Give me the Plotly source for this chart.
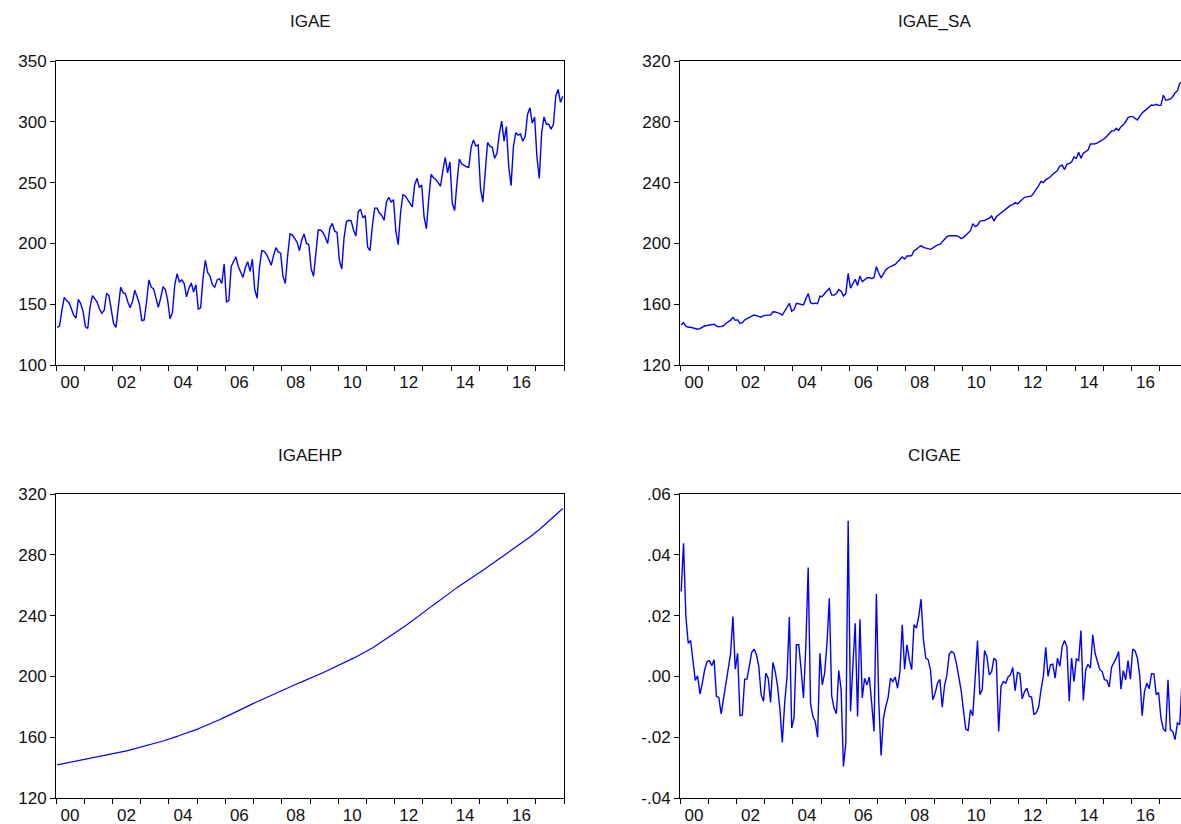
import plotly.graph_objects as go

# ---------------- data (monthly, Jan 2000 - Dec 2017) ----------------
start_year = 2000
n_years = 18

igae = [
    131, 132, 145, 155.6, 153, 151.5, 146.5, 141, 138.5, 154, 150.5, 144,
    131.5, 130, 148, 157, 154.5, 151.5, 146, 142.5, 145, 159, 157, 147,
    134, 131, 150, 164, 159.5, 158.5, 152, 147, 152, 161.5, 156, 150,
    136.5, 137, 152, 170, 164, 162.5, 155, 147.5, 155, 164.5, 162, 153,
    138, 143, 166, 175, 168, 170, 167, 156, 163, 167.5, 160, 166,
    146, 147, 171, 186, 176, 173, 166, 164, 170, 171, 167, 183,
    152, 153, 181, 185, 189, 181, 177, 172, 180, 185, 177, 187,
    162, 155, 180, 194, 193.5, 191, 187, 182, 190, 196.5, 193, 192,
    173, 167, 190, 207.7, 207, 204, 201, 194, 203, 207.7, 200, 199,
    179, 173, 195, 211, 211, 209, 205, 200, 213, 216.5, 210, 209,
    186, 179, 205, 218, 219, 218.5, 211, 206, 226, 228, 221, 223,
    197, 194, 214, 229, 229, 225, 223, 219, 234, 238, 234, 236,
    210, 199, 225, 240, 239, 236, 233, 230, 248, 253.5, 246, 248,
    222, 212, 237, 256.8, 254, 252.5, 250, 247, 260, 270.8, 258, 267,
    233, 227, 250, 269.4, 265.5, 264, 263, 262.5, 279, 285, 280, 281,
    245, 234, 262, 283, 280, 279, 270, 274, 290, 300.6, 284, 296,
    263, 247.5, 280, 291, 289, 290, 284, 288, 306, 311.6, 299, 304,
    271, 253.5, 291, 304, 298, 298, 294, 298, 321, 326.7, 316, 321,
]

igae_sa = [
    146.3, 147.9, 145.5, 144.8, 144.8, 144.3, 143.7, 143.5, 143.9, 145.0, 145.8, 146.0,
    146.3, 146.5, 146.8, 145.6, 145.2, 145.4, 145.8, 147.3, 148.5, 149.5, 151.4, 149.4,
    149.8, 147.4, 147.8, 149.6, 150.5, 151.2, 152.2, 152.9, 152.5, 151.9, 151.4, 152.5,
    152.9, 152.8, 152.8, 155.0, 154.9, 154.5, 153.8, 152.8, 155.2, 157.3, 160.6, 155.5,
    156.5, 160.6, 160.2, 159.6, 159.5, 163.5, 167.1, 161.0, 160.3, 160.7, 160.3, 165.2,
    165.1, 167.0, 168.5, 170.4, 166.0, 166.0, 167.0, 169.6, 168.5, 165.4, 167.0, 180.3,
    170.6, 173.7, 176.4, 172.3, 178.6, 174.8, 176.2, 177.3, 177.6, 176.8, 177.5, 184.7,
    180.5, 177.3, 180.0, 182.5, 184.0, 184.9, 185.4, 186.2, 187.8, 189.5, 191.0, 189.7,
    191.7, 191.7, 192.0, 195.2, 196.0, 197.5, 198.5, 197.4, 196.8, 196.5, 196.1, 197.0,
    197.9, 199.0, 199.3, 200.8, 202.7, 204.4, 205.0, 205.1, 205.1, 205.1, 204.5, 203.3,
    203.8, 205.5, 206.8, 208.4, 213.0, 211.0, 212.0, 214.5, 215.0, 215.0, 216.0, 216.5,
    218.0, 214.7, 217.5, 218.7, 220.2, 221.2, 222.4, 223.5, 225.0, 225.5, 226.8, 226.0,
    227.5, 229.0, 230.3, 230.6, 231.0, 231.3, 233.4, 235.5, 238.0, 240.8, 240.0, 241.8,
    242.8, 243.8, 245.5, 246.5, 248.0, 250.9, 251.5, 248.5, 252.0, 252.6, 253.5, 256.8,
    256.0, 260.0, 256.0, 259.3, 260.5, 261.4, 265.4, 265.4, 265.6, 266.2, 267.0, 268.0,
    269.0, 270.5, 272.5, 274.0, 274.0, 275.7, 274.3, 276.8, 278.0, 280.0, 282.8, 283.4,
    283.4, 282.5, 281.2, 283.5, 285.8, 287.2, 288.5, 290.2, 291.0, 290.8, 291.5, 290.8,
    290.8, 297.5, 294.3, 294.5, 295.0, 296.5, 299.0, 300.5, 305.3, 306.0, 307.0, 308.0,
]

igaehp = [
    141.8, 142.1, 142.4, 142.7, 143.0, 143.3, 143.5, 143.8, 144.1, 144.4, 144.7, 145.0,
    145.3, 145.6, 145.9, 146.2, 146.5, 146.8, 147.2, 147.5, 147.8, 148.1, 148.4, 148.7,
    149.0, 149.4, 149.7, 150.1, 150.5, 150.8, 151.2, 151.6, 151.9, 152.3, 152.7, 153.0,
    153.4, 153.8, 154.3, 154.7, 155.2, 155.7, 156.1, 156.6, 157.1, 157.5, 158.0, 158.4,
    158.9, 159.4, 160.0, 160.5, 161.1, 161.6, 162.2, 162.7, 163.3, 163.8, 164.4, 164.9,
    165.5, 166.2, 166.8, 167.5, 168.2, 168.9, 169.5, 170.2, 170.9, 171.5, 172.2, 172.9,
    173.6, 174.4, 175.1, 175.9, 176.6, 177.4, 178.1, 178.9, 179.6, 180.4, 181.1, 181.9,
    182.6, 183.4, 184.1, 184.8, 185.6, 186.3, 187.0, 187.7, 188.5, 189.2, 189.9, 190.7,
    191.4, 192.0, 192.7, 193.3, 193.9, 194.5, 195.2, 195.8, 196.4, 197.0, 197.6, 198.3,
    198.9, 199.6, 200.3, 201.0, 201.7, 202.4, 203.1, 203.8, 204.5, 205.2, 205.9, 206.6,
    207.3, 208.1, 208.9, 209.6, 210.4, 211.2, 212.0, 212.8, 213.6, 214.3, 215.1, 215.9,
    216.7, 217.7, 218.7, 219.7, 220.7, 221.7, 222.7, 223.6, 224.6, 225.6, 226.6, 227.6,
    228.6, 229.8, 230.9, 232.1, 233.2, 234.4, 235.5, 236.7, 237.8, 239.0, 240.1, 241.3,
    242.4, 243.6, 244.7, 245.9, 247.0, 248.2, 249.3, 250.5, 251.7, 252.8, 254.0, 255.1,
    256.3, 257.3, 258.4, 259.4, 260.5, 261.5, 262.5, 263.6, 264.6, 265.7, 266.7, 267.8,
    268.8, 269.8, 270.9, 271.9, 273.0, 274.0, 275.0, 276.1, 277.1, 278.2, 279.2, 280.3,
    281.3, 282.5, 283.6, 284.8, 285.9, 287.1, 288.3, 289.4, 290.6, 291.7, 292.9, 294.0,
    295.2, 296.6, 298.0, 299.4, 300.8, 302.2, 303.5, 304.9, 306.3, 307.7, 309.1, 310.5,
]

cigae = [
    0.0279, 0.0438, 0.0197, 0.0109, 0.0118, 0.0055, -0.0013, 0.0002, -0.0058, -0.0022, 0.0022, 0.0049,
    0.0052, 0.0035, 0.0055, -0.0066, -0.0069, -0.0123, -0.0077, -0.0022, 0.0022, 0.0074, 0.0197, 0.0024,
    0.0076, -0.0129, -0.0127, -0.0009, -0.0009, 0.0033, 0.0079, 0.0090, 0.0071, 0.0033, -0.0060, -0.0082,
    0.0011, -0.0006, -0.0086, 0.0046, 0.0016, -0.0033, -0.0110, -0.0217, -0.0088, -0.0002, 0.0195, -0.0170,
    -0.0135, 0.0104, 0.0104, 0.0022, -0.0071, 0.0098, 0.0358, -0.0088, -0.0132, -0.0148, -0.0200, 0.0076,
    -0.0028, 0.0011, 0.0109, 0.0257, -0.0064, -0.0104, -0.0123, 0.0019, -0.0042, -0.0296, -0.0219, 0.0512,
    -0.0115, 0.0033, 0.0175, -0.0132, 0.0188, -0.0071, -0.0006, -0.0028, -0.0002, -0.0088, -0.0181, 0.0271,
    -0.0077, -0.0260, -0.0137, -0.0099, -0.0069, -0.0006, -0.0017, -0.0002, -0.0039, 0.0013, 0.0170, 0.0024,
    0.0104, 0.0055, 0.0022, 0.0170, 0.0159, 0.0197, 0.0254, 0.0120, 0.0060, 0.0055, 0.0022, -0.0077,
    -0.0055, -0.0022, -0.0010, -0.0101, -0.0030, 0.0005, 0.0074, 0.0082, 0.0076, 0.0044, 0.0005, -0.0044,
    -0.0110, -0.0173, -0.0178, -0.0110, -0.0129, -0.0022, 0.0118, -0.0060, -0.0044, 0.0085, 0.0065, 0.0005,
    0.0016, 0.0060, 0.0052, -0.0181, -0.0033, -0.0017, -0.0022, -0.0002, 0.0005, 0.0029, -0.0047, 0.0013,
    0.0009, -0.0074, -0.0050, -0.0039, -0.0066, -0.0068, -0.0126, -0.0120, -0.0101, -0.0044, 0.0000, 0.0096,
    0.0000, 0.0038, 0.0040, -0.0006, 0.0060, 0.0033, 0.0098, 0.0118, 0.0098, -0.0082, 0.0060, -0.0017,
    0.0057, 0.0052, 0.0151, -0.0079, 0.0022, 0.0040, 0.0027, 0.0137, 0.0076, 0.0049, 0.0022, 0.0016,
    -0.0011, -0.0013, -0.0035, 0.0030, 0.0044, 0.0060, 0.0082, -0.0042, 0.0019, -0.0011, 0.0052, -0.0009,
    0.0090, 0.0084, 0.0060, 0.0000, -0.0129, -0.0050, -0.0022, -0.0041, 0.0009, 0.0008, -0.0060, -0.0053,
    -0.0137, -0.0173, -0.0181, -0.0011, -0.0175, -0.0181, -0.0208, -0.0153, -0.0159, -0.0009, -0.0077, -0.0050,
]

titles = ["IGAE", "IGAE_SA", "IGAEHP", "CIGAE"]
y_ticks = [
    [100, 150, 200, 250, 300, 350],
    [120, 160, 200, 240, 280, 320],
    [120, 160, 200, 240, 280, 320],
    [-0.04, -0.02, 0.00, 0.02, 0.04, 0.06],
]
y_ticktext = [
    ["100", "150", "200", "250", "300", "350"],
    ["120", "160", "200", "240", "280", "320"],
    ["120", "160", "200", "240", "280", "320"],
    ["-.04", "-.02", ".00", ".02", ".04", ".06"],
]
series = [igae, igae_sa, igaehp, cigae]

# ---------------- layout geometry (pixels) ----------------
W, H = 1181, 824
left_px = (56, 564)
right_px = (680, 1181)
top_py = (61, 365)
bot_py = (494, 798)
px_per_year = (left_px[1] - left_px[0]) / n_years

t = [start_year + (i + 0.5) / 12 for i in range(len(igae))]

font_family = "Liberation Sans, Arial, Helvetica, sans-serif"
txt_color = "#111111"
fsize = 17

fig = go.Figure()

boxes = [
    (left_px, top_py),
    (right_px, top_py),
    (left_px, bot_py),
    (right_px, bot_py),
]

year_vals = list(range(start_year, start_year + n_years + 1))
year_text = [("%02d" % (y % 100)) if (y % 2 == 0 and y < start_year + n_years) else "" for y in year_vals]

layout_axes = {}
for k, (name, data, (xp, yp)) in enumerate(zip(titles, series, boxes)):
    idx = "" if k == 0 else str(k + 1)
    xa, ya = "x" + idx, "y" + idx
    fig.add_trace(go.Scatter(
        x=t, y=data, mode="lines", name=name,
        line=dict(color="#0000FF", width=1.4 if k != 2 else 1.2),
        xaxis=xa, yaxis=ya, showlegend=False, hoverinfo="skip",
    ))
    x_end = start_year + (xp[1] - xp[0]) / px_per_year
    layout_axes["xaxis" + idx] = dict(
        domain=[xp[0] / W, xp[1] / W],
        anchor=ya,
        range=[start_year, x_end],
        tickmode="array", tickvals=year_vals, ticktext=year_text,
        ticks="outside", ticklen=5, tickwidth=1, tickcolor="#000000",
        ticklabelshift=round(px_per_year / 2),
        ticklabelstandoff=-3,
        showline=True, mirror=True, linecolor="#000000", linewidth=1,
        showgrid=False, zeroline=False,
        tickfont=dict(family=font_family, size=fsize, color=txt_color),
        automargin=False, fixedrange=True,
    )
    layout_axes["yaxis" + idx] = dict(
        domain=[1 - yp[1] / H, 1 - yp[0] / H],
        anchor=xa,
        range=[y_ticks[k][0], y_ticks[k][-1]],
        tickmode="array", tickvals=y_ticks[k], ticktext=y_ticktext[k],
        ticks="outside", ticklen=5, tickwidth=1, tickcolor="#000000",
        showline=True, mirror=True, linecolor="#000000", linewidth=1,
        showgrid=False, zeroline=False,
        tickfont=dict(family=font_family, size=fsize, color=txt_color),
        automargin=False, fixedrange=True,
    )
    full_right = xp[0] + n_years * px_per_year
    fig.add_annotation(
        text=name, xref="paper", yref="paper",
        x=((xp[0] + full_right) / 2) / W, y=1 - (yp[0] - 39) / H,
        xanchor="center", yanchor="middle", showarrow=False,
        font=dict(family=font_family, size=fsize, color=txt_color),
    )

fig.update_layout(
    width=W, height=H, autosize=False,
    margin=dict(l=0, r=0, t=0, b=0),
    paper_bgcolor="white", plot_bgcolor="white",
    **layout_axes,
)

fig.write_html(
    "out.html",
    config={"displayModeBar": False, "staticPlot": True},
    post_script="document.body.style.margin='0';document.body.style.padding='0';"
                "document.documentElement.style.overflow='hidden';document.body.style.overflow='hidden';",
)
